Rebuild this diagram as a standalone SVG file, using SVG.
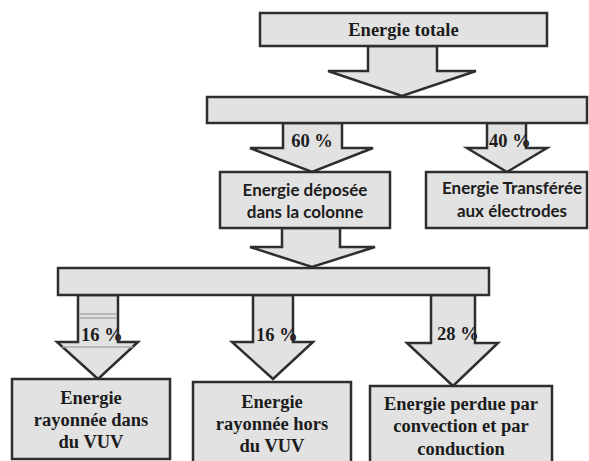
<svg xmlns="http://www.w3.org/2000/svg" width="589" height="461" viewBox="0 0 589 461">
<style>
.box{fill:#e2e2e2;stroke:#2e2e2e;stroke-width:2.5}
.arr{fill:#e2e2e2;stroke:#2e2e2e;stroke-width:2.5;stroke-linejoin:miter}
.serif{font-family:"Liberation Serif","Times New Roman",serif;font-weight:bold;font-size:18.5px;fill:#1c1c1c}
.sans{font-family:Lato,"Open Sans",sans-serif;font-weight:bold;font-size:17px;fill:#1c1c1c}
.pct{font-family:"Liberation Serif","Times New Roman",serif;font-weight:bold;font-size:18.5px;fill:#1c1c1c}
.c{text-anchor:middle}
.faint{stroke:#a8a8a8;stroke-width:1.5}
</style>
<rect width="589" height="461" fill="#ffffff"/>
<g id="connectors">
  <polygon class="arr" points="368,46 437,46 437,71 476,71 402,96 328,71 368,71"/>
  <polygon class="arr" points="283,123 342,123 342,148 373,148 312,172 250,148 283,148"/>
  <polygon class="arr" points="487,123 526,123 526,148 547,148 507,172 467,148 487,148"/>
  <polygon class="arr" points="282,228 340,228 340,247 375,247 312,267 250,247 282,247"/>
  <polygon class="arr" points="78,295 118,295 118,342 138,342 98,379 57,342 78,342"/>
  <line class="faint" x1="79" y1="314" x2="117" y2="314"/>
  <line class="faint" x1="79" y1="318" x2="117" y2="318"/>
  <line class="faint" x1="62" y1="347" x2="133" y2="347"/>
  <polygon class="arr" points="253,295 293,295 293,342 313,342 273,379 232,342 253,342"/>
  <polygon class="arr" points="431,295 475,295 475,343 498,343 453,386 407,343 431,343"/>
  <text class="pct c" x="312" y="147">60 %</text>
  <text class="pct" x="489" y="147">40 %</text>
  <text class="pct" x="81" y="341">16 %</text>
  <text class="pct" x="256" y="341">16 %</text>
  <text class="pct" x="437" y="340">28 %</text>
</g>
<g id="energie-totale">
  <rect class="box" x="260" y="13" width="287" height="33"/>
  <text class="serif c" x="403.5" y="36">Energie totale</text>
</g>
<g id="bar-1">
  <rect class="box" x="207" y="97" width="380" height="26"/>
</g>
<g id="energie-deposee">
  <rect class="box" x="220" y="172" width="170" height="56"/>
  <text class="sans c" x="305" y="196">Energie déposée</text>
  <text class="sans c" x="305" y="218">dans la colonne</text>
</g>
<g id="energie-transferee">
  <rect class="box" x="426" y="172" width="161" height="56"/>
  <text class="sans c" x="512" y="194">Energie Transférée</text>
  <text class="sans c" x="512" y="217">aux électrodes</text>
</g>
<g id="bar-2">
  <rect class="box" x="58" y="268" width="431" height="27"/>
</g>
<g id="rayonnee-dans">
  <rect class="box" x="12" y="379" width="158" height="80"/>
  <text class="serif c" x="91" y="404">Energie</text>
  <text class="serif c" x="91" y="426">rayonnée dans</text>
  <text class="serif c" x="91" y="448">du VUV</text>
</g>
<g id="rayonnee-hors">
  <rect class="box" x="193" y="382" width="158" height="82"/>
  <text class="serif c" x="272" y="408">Energie</text>
  <text class="serif c" x="272" y="430">rayonnée hors</text>
  <text class="serif c" x="272" y="452">du VUV</text>
</g>
<g id="energie-perdue">
  <rect class="box" x="370" y="386" width="182" height="80"/>
  <text class="serif c" x="461" y="410">Energie perdue par</text>
  <text class="serif c" x="461" y="432">convection et par</text>
  <text class="serif c" x="461" y="455">conduction</text>
</g>
</svg>
